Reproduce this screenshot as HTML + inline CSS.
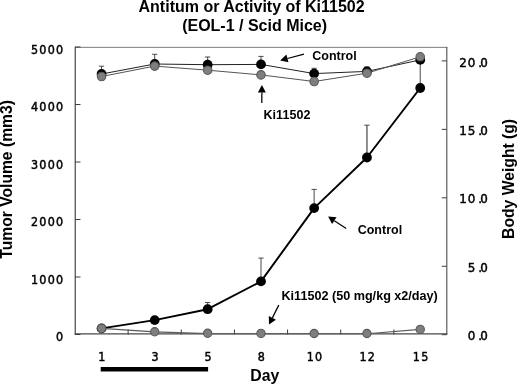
<!DOCTYPE html><html><head><meta charset="utf-8"><title>Antitumor Activity of Ki11502</title>
<style>html,body{margin:0;padding:0;background:#fff}svg{display:block}.s{font-family:"Liberation Sans",sans-serif;font-weight:bold;fill:#000}.m{font-family:"DejaVu Sans Condensed","DejaVu Sans","Liberation Sans",sans-serif;font-stretch:condensed;fill:#000;stroke:#000;stroke-width:0.45px;font-size:12.4px;letter-spacing:1.25px}</style></head><body>
<svg width="520" height="385" viewBox="0 0 520 385">
<rect width="520" height="385" fill="#fff"/>
<text class="s" x="251.6" y="12.0" font-size="16.0" text-anchor="middle">Antitum or Activity of Ki11502</text>
<text class="s" x="254.6" y="30.5" font-size="16.0" text-anchor="middle">(EOL-1 / Scid Mice)</text>
<path d="M75 47.35H447.3" stroke="#7d7d7d" stroke-width="1" fill="none"/>
<path d="M75.25 46.9V334.5" stroke="#484848" stroke-width="1.2" fill="none"/>
<path d="M446.8 46.9V334.5" stroke="#555" stroke-width="1.15" fill="none"/>
<path d="M74.7 333.9H447.4" stroke="#484848" stroke-width="1.4" fill="none"/>
<path d="M75.0 334.50h5.5M75.0 277.00h5.5M75.0 219.50h5.5M75.0 162.00h5.5M75.0 104.50h5.5M75.0 47.00h5.5M446.7 334.70h-5M446.7 266.25h-5M446.7 197.80h-5M446.7 129.35h-5M446.7 60.90h-5M128.14 334.5v-5M181.29 334.5v-5M234.43 334.5v-5M287.57 334.5v-5M340.71 334.5v-5M393.86 334.5v-5" stroke="#3c3c3c" stroke-width="1" fill="none"/>
<text class="m" x="64.4" y="341.30" text-anchor="end">0</text>
<text class="m" x="64.4" y="283.80" text-anchor="end">1000</text>
<text class="m" x="64.4" y="226.30" text-anchor="end">2000</text>
<text class="m" x="64.4" y="168.80" text-anchor="end">3000</text>
<text class="m" x="64.4" y="111.30" text-anchor="end">4000</text>
<text class="m" x="64.4" y="53.80" text-anchor="end">5000</text>
<text class="m" style="font-family:'DejaVu Sans',sans-serif;font-stretch:normal;font-size:11.9px;letter-spacing:0" y="340.30"><tspan x="467.7">0</tspan><tspan x="478.2">.</tspan><tspan x="480.2">0</tspan></text>
<text class="m" style="font-family:'DejaVu Sans',sans-serif;font-stretch:normal;font-size:11.9px;letter-spacing:0" y="271.85"><tspan x="467.7">5</tspan><tspan x="478.2">.</tspan><tspan x="480.2">0</tspan></text>
<text class="m" style="font-family:'DejaVu Sans',sans-serif;font-stretch:normal;font-size:11.9px;letter-spacing:0" y="203.40"><tspan x="459.3">1</tspan><tspan x="467.7">0</tspan><tspan x="478.2">.</tspan><tspan x="480.2">0</tspan></text>
<text class="m" style="font-family:'DejaVu Sans',sans-serif;font-stretch:normal;font-size:11.9px;letter-spacing:0" y="134.95"><tspan x="459.3">1</tspan><tspan x="467.7">5</tspan><tspan x="478.2">.</tspan><tspan x="480.2">0</tspan></text>
<text class="m" style="font-family:'DejaVu Sans',sans-serif;font-stretch:normal;font-size:11.9px;letter-spacing:0" y="66.50"><tspan x="459.3">2</tspan><tspan x="467.7">0</tspan><tspan x="478.2">.</tspan><tspan x="480.2">0</tspan></text>
<text class="m" x="102.52" y="361.0" text-anchor="middle">1</text>
<text class="m" x="155.66" y="361.0" text-anchor="middle">3</text>
<text class="m" x="208.61" y="361.0" text-anchor="middle">5</text>
<text class="m" x="261.95" y="361.0" text-anchor="middle">8</text>
<text class="m" x="315.09" y="361.0" text-anchor="middle">10</text>
<text class="m" x="367.89" y="361.0" text-anchor="middle">12</text>
<text class="m" x="421.18" y="361.0" text-anchor="middle">15</text>
<text class="s" x="264.8" y="380.8" font-size="15.8" text-anchor="middle">Day</text>
<text class="s" font-size="16.0" text-anchor="middle" textLength="158.6" lengthAdjust="spacingAndGlyphs" transform="translate(12.3 179.4) rotate(-90)">Tumor Volume (mm3)</text>
<text class="s" font-size="16.2" text-anchor="middle" textLength="120" lengthAdjust="spacingAndGlyphs" transform="translate(514.1 178.9) rotate(-90)">Body Weight (g)</text>
<rect x="100.7" y="367" width="107.4" height="4.5" fill="#000"/>
<path d="M366.94 157.5V125.2" stroke="#7c7c7c" stroke-width="1.7" fill="none"/><path d="M364.34 125.2h5.2" stroke="#555" stroke-width="1.1" fill="none"/><path d="M207.66 309.2V302.5M205.06 302.5h5.2M261.00 281.4V258.1M258.40 258.1h5.2M314.14 208.1V189.4M311.54 189.4h5.2M420.23 88.0V57M417.63 57h5.2" stroke="#4a4a4a" stroke-width="1" fill="none"/>
<path d="M101.57 74.0V66.2M98.97 66.2h5.2M154.71 64.0V54.3M152.11 54.3h5.2M207.66 64.7V57M205.06 57h5.2M261.00 64.4V56.4M258.40 56.4h5.2M314.14 73.6V68.3M311.54 68.3h5.2M366.94 71.4V67M364.34 67h5.2" stroke="#4a4a4a" stroke-width="1" fill="none"/>
<polyline points="101.57,328.4 154.71,320.1 207.66,309.2 261.00,281.4 314.14,208.1 366.94,157.5 420.23,88.0" fill="none" stroke="#000" stroke-width="1.95" stroke-linejoin="round"/>
<circle cx="101.57" cy="328.4" r="4.9" fill="#000"/><circle cx="154.71" cy="320.1" r="4.9" fill="#000"/><circle cx="207.66" cy="309.2" r="4.9" fill="#000"/><circle cx="261.00" cy="281.4" r="4.9" fill="#000"/><circle cx="314.14" cy="208.1" r="4.9" fill="#000"/><circle cx="366.94" cy="157.5" r="4.9" fill="#000"/><circle cx="420.23" cy="88.0" r="4.9" fill="#000"/>
<polyline points="101.57,328.4 154.71,331.9 207.66,333.6 261.00,333.8 314.14,333.8 366.94,333.8 420.23,329.4" fill="none" stroke="#5a5a5a" stroke-width="1.1" stroke-linejoin="round"/>
<circle cx="101.57" cy="328.4" r="4.15" fill="#7e7e7e" stroke="#585858" stroke-width="1.1"/><circle cx="154.71" cy="331.8" r="4.15" fill="#7e7e7e" stroke="#585858" stroke-width="1.1"/><circle cx="207.66" cy="333.3" r="4.15" fill="#7e7e7e" stroke="#585858" stroke-width="1.1"/><circle cx="261.00" cy="333.4" r="4.15" fill="#7e7e7e" stroke="#585858" stroke-width="1.1"/><circle cx="314.14" cy="333.5" r="4.15" fill="#7e7e7e" stroke="#585858" stroke-width="1.1"/><circle cx="366.94" cy="333.5" r="4.15" fill="#7e7e7e" stroke="#585858" stroke-width="1.1"/><circle cx="420.23" cy="329.4" r="4.15" fill="#7e7e7e" stroke="#585858" stroke-width="1.1"/>
<polyline points="101.57,74.0 154.71,64.0 207.66,64.7 261.00,64.4 314.14,73.6 366.94,71.4 420.23,59.9" fill="none" stroke="#222" stroke-width="1" stroke-linejoin="round"/>
<circle cx="101.57" cy="74.0" r="4.9" fill="#000"/><circle cx="154.71" cy="64.0" r="4.9" fill="#000"/><circle cx="207.66" cy="64.7" r="4.9" fill="#000"/><circle cx="261.00" cy="64.4" r="4.9" fill="#000"/><circle cx="314.14" cy="73.6" r="4.9" fill="#000"/><circle cx="366.94" cy="71.4" r="4.9" fill="#000"/><circle cx="420.23" cy="59.9" r="4.9" fill="#000"/>
<polyline points="101.57,76.5 154.71,66.1 207.66,70.2 261.00,74.9 314.14,81.5 366.94,73.2 420.23,56.8" fill="none" stroke="#555" stroke-width="1" stroke-linejoin="round"/>
<circle cx="101.57" cy="76.5" r="4.25" fill="#7e7e7e" stroke="#585858" stroke-width="1.1"/><circle cx="154.71" cy="66.1" r="4.25" fill="#7e7e7e" stroke="#585858" stroke-width="1.1"/><circle cx="207.66" cy="70.2" r="4.25" fill="#7e7e7e" stroke="#585858" stroke-width="1.1"/><circle cx="261.00" cy="74.9" r="4.25" fill="#7e7e7e" stroke="#585858" stroke-width="1.1"/><circle cx="314.14" cy="81.5" r="4.25" fill="#7e7e7e" stroke="#585858" stroke-width="1.1"/><circle cx="366.94" cy="73.2" r="4.25" fill="#7e7e7e" stroke="#585858" stroke-width="1.1"/><circle cx="420.23" cy="56.8" r="4.25" fill="#7e7e7e" stroke="#585858" stroke-width="1.1"/>
<path d="M304.00 54.10L287.45 58.48" stroke="#000" stroke-width="1.25" fill="none"/><path d="M280.20 60.40L286.43 54.61L288.47 62.35Z" fill="#000"/>
<path d="M261.80 103.00L261.86 92.60" stroke="#000" stroke-width="1.25" fill="none"/><path d="M261.90 85.10L265.86 92.62L257.86 92.58Z" fill="#000"/>
<path d="M346.20 228.60L334.34 220.67" stroke="#000" stroke-width="1.25" fill="none"/><path d="M328.10 216.50L336.56 217.34L332.11 223.99Z" fill="#000"/>
<path d="M278.80 305.10L272.37 317.90" stroke="#000" stroke-width="1.25" fill="none"/><path d="M269.00 324.60L268.79 316.10L275.94 319.69Z" fill="#000"/>
<text class="s" x="312.3" y="60" font-size="12.5">Control</text>
<text class="s" x="263.4" y="119.2" font-size="12.5" letter-spacing="0.1">Ki11502</text>
<text class="s" x="357.7" y="233.5" font-size="12.5">Control</text>
<text class="s" x="281.5" y="300.1" font-size="12.62">Ki11502 (50 mg/kg x2/day)</text>
</svg></body></html>
